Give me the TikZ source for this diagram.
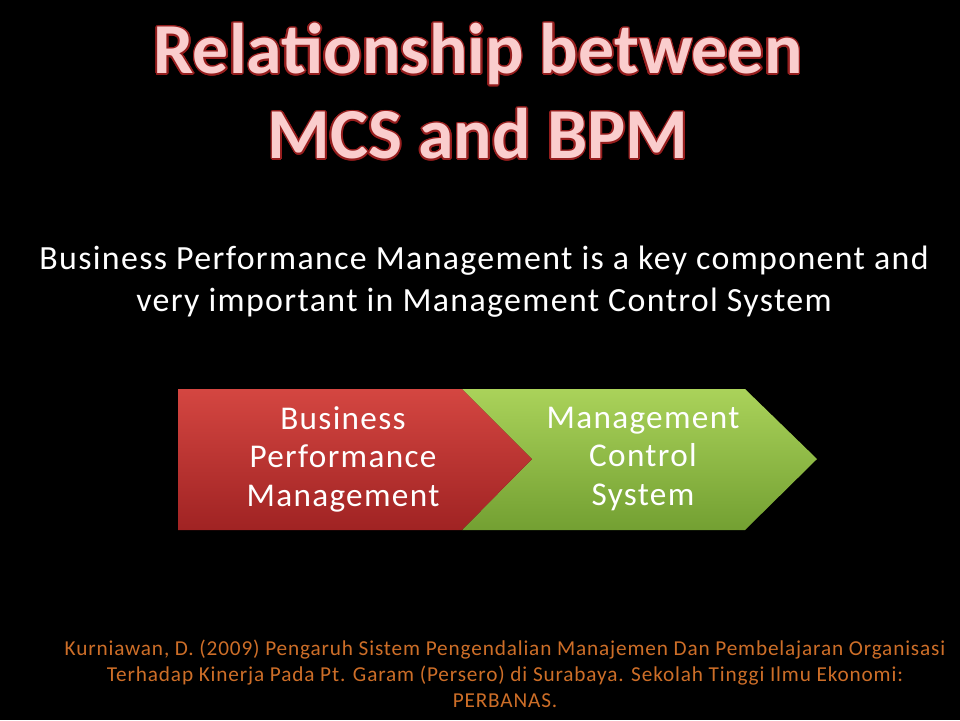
\documentclass[tikz,border=0pt]{standalone}
\usepackage{fontspec}
\setmainfont{Carlito}
\newfontfamily\widefont[LetterSpace=4]{Carlito}
\usepackage[copies]{contour}
\contourlength{1.2pt}
\usetikzlibrary{positioning}
\definecolor{titlepink}{RGB}{250,205,205}
\definecolor{titleedge}{RGB}{150,30,30}
\definecolor{noteorange}{RGB}{205,110,40}
\definecolor{redtop}{RGB}{212,70,65}
\definecolor{redbot}{RGB}{160,35,35}
\definecolor{greentop}{RGB}{170,210,90}
\definecolor{greenbot}{RGB}{115,160,50}
\tikzstyle{title} = [text=titlepink, font=\fontsize{54}{64}\selectfont\bfseries, align=center]
\tikzstyle{lead} = [text=white, font=\widefont\fontsize{25.5}{31.5}\selectfont, align=center]
\tikzstyle{box text} = [text=white, font=\widefont\fontsize{25}{29}\selectfont, align=center]
\tikzstyle{note} = [text=noteorange, font=\widefont\fontsize{16}{19.5}\selectfont, align=center]
\begin{document}
\begin{tikzpicture}[x=0.02646cm, y=-0.02646cm]
	% Background
	\fill[black] (0,0) rectangle (960,720);
	\useasboundingbox (0,0) rectangle (960,720);
	
	% Heading and statement
	\node[title] (head) at (478,92) {\contour{titleedge}{Relationship between}\\\contour{titleedge}{MCS and BPM}};
	\node[lead] (claim) at (484,282) {Business Performance Management is a key component and\\very important in Management Control System};
	
	% Chevrons
	\shade[top color=greentop, bottom color=greenbot] (462,389) -- (745,389) -- (817,459) -- (745,530) -- (462,530) -- (532,459) -- cycle;
	\shade[top color=redtop, bottom color=redbot] (178,389) -- (462,389) -- (532,459) -- (462,530) -- (178,530) -- cycle;
	\node[box text] (bpm) at (343,459) {Business\\Performance\\Management};
	\node[box text] (mcs) at (643,459) {Management\\Control\\System};
	
	% Reference
	\node[note] (cite) at (505,674) {Kurniawan, D. (2009) Pengaruh Sistem Pengendalian Manajemen Dan Pembelajaran Organisasi\\Terhadap Kinerja Pada Pt. Garam (Persero) di Surabaya. Sekolah Tinggi Ilmu Ekonomi:\\PERBANAS.};
\end{tikzpicture}
\end{document}
